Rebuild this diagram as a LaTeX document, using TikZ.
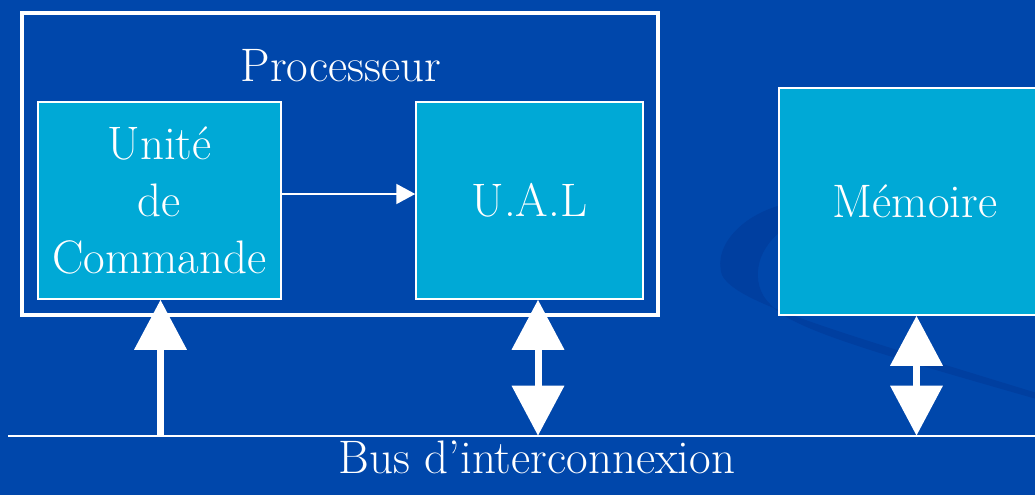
\documentclass[tikz,border=0pt]{standalone}
\usepackage{fontspec}
\usetikzlibrary{arrows.meta}

\definecolor{slidebg}{RGB}{0,71,171}
\definecolor{swoosh}{RGB}{0,63,160}
\definecolor{unitfill}{RGB}{0,169,214}

\tikzset{
  unit/.style={draw=white, line width=1.5pt, fill=unitfill, inner sep=0pt,
               text=white, align=center,
               font=\fontsize{47}{57}\selectfont},
  frame/.style={draw=white, line width=4pt, inner sep=0pt},
  label/.style={text=white, inner sep=0pt, anchor=base,
                font=\fontsize{47}{57}\selectfont},
  thinarrow/.style={draw=white, line width=2pt,
                    -{Triangle[length=19pt, width=20pt]}},
  busarrow/.style={draw=white, fill=white, line width=7pt,
                   -{Triangle[length=50pt, width=51pt]}},
  busduplex/.style={draw=white, fill=white, line width=7pt,
                    {Triangle[length=50pt, width=51pt]}-{Triangle[length=50pt, width=51pt]}},
  busline/.style={draw=white, line width=2pt}
}

\begin{document}
\begin{tikzpicture}[x=1pt, y=-1pt]
  % slide background
  \fill[slidebg] (0,0) rectangle (1035,495);
  \useasboundingbox (0,0) rectangle (1035,495);
  \clip (0,0) rectangle (1035,495);

  % decorative swoosh behind the memory block
  \fill[swoosh]
    (795,202) .. controls (745,210) and (712,245) .. (722,275)
    .. controls (735,302) and (825,328) .. (1040,394)
    -- (1040,400)
    .. controls (865,350) and (790,328) .. (770,304)
    .. controls (750,285) and (752,245) .. (795,222) -- cycle;

  % processor frame and its title
  \node[frame, minimum width=636pt, minimum height=302pt] (proc) at (340,163.6) {};
  \node[label] (proctitle) at (341,81.7) {Processeur};

  % functional units
  \node[unit, minimum width=243pt, minimum height=197pt] (uc) at (159.5,200.5) {Unité\\de\\Commande};
  \node[unit, minimum width=227pt, minimum height=197pt] (ual) at (529.5,200.5) {U.A.L};
  \node[unit, minimum width=272pt, minimum height=227pt] (mem) at (915,201.5) {Mémoire};

  % control unit drives the ALU
  \draw[thinarrow] ([yshift=6.5pt]uc.east) -- ([yshift=6.5pt]ual.west);

  % interconnection bus
  \coordinate (busL) at (8,435.7);
  \coordinate (busR) at (1035,435.7);
  \draw[busline] (busL) -- (busR);
  \node[label] (buslabel) at (537,473) {Bus d’interconnexion};

  % bus taps
  \coordinate (tapuc)  at (160.5,435.7);
  \coordinate (tapual) at (538,435.7);
  \coordinate (tapmem) at (916.5,435.7);
  \draw[busarrow]  (tapuc)  -- (tapuc |- uc.south);
  \draw[busduplex] (tapual) -- (tapual |- ual.south);
  \draw[busduplex] (tapmem) -- (tapmem |- mem.south);
\end{tikzpicture}
\end{document}
